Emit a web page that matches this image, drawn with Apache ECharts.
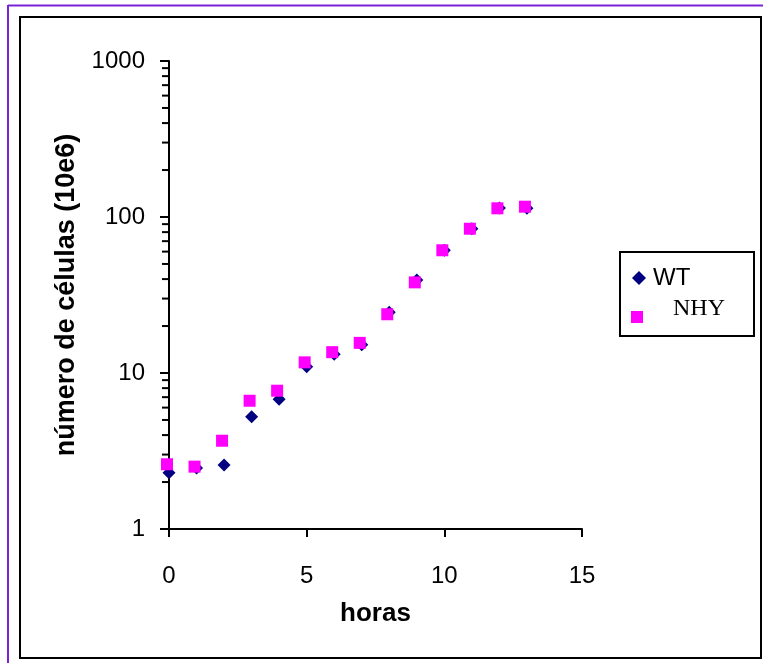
<!DOCTYPE html>
<html>
<head>
<meta charset="utf-8">
<script src="https://cdn.jsdelivr.net/npm/echarts@6/dist/echarts.min.js"></script>
<style>
html,body{margin:0;padding:0;background:#fff;}
#chart{width:763px;height:663px;}
</style>
</head>
<body>
<div id="chart"></div>
<script>
const hours = [0, 1, 2, 3, 4, 5, 6, 7, 8, 9, 10, 11, 12, 13];
const wtValues = [2.29, 2.46, 2.57, 5.25, 6.78, 10.97, 13.2, 15.2, 24.5, 39.4, 61.2, 84.1, 114, 113.7];
const nhyValues = [2.60, 2.51, 3.68, 6.64, 7.7, 11.7, 13.6, 15.6, 23.8, 38.1, 61.2, 84.1, 113.7, 116.4];
const xTickLabels = [0, 5, 10, 15];
const yTickLabels = [1, 10, 100, 1000];
const yMinorTicks = [2, 3, 4, 5, 6, 7, 8, 9, 20, 30, 40, 50, 60, 70, 80, 90, 200, 300, 400, 500, 600, 700, 800, 900];
const seriesNames = ['WT', 'NHY'];
const xTitle = 'horas';
const yTitle = 'número de células (10e6)';

const FONT = '"Liberation Sans", Arial, sans-serif';
const SERIF = '"Liberation Serif", "Times New Roman", serif';
const chart = echarts.init(document.getElementById('chart'));

const option = {
  backgroundColor: '#ffffff',
  animation: false,
  grid: {left: 169, right: 181, top: 61, bottom: 134, containLabel: false},
  xAxis: {
    type: 'value',
    min: xTickLabels[0],
    max: xTickLabels[xTickLabels.length - 1],
    interval: 5,
    name: xTitle,
    nameLocation: 'middle',
    nameGap: 72,
    nameTextStyle: {fontFamily: FONT, fontWeight: 'bold', fontSize: 26, color: '#000'},
    axisLine: {show: true, lineStyle: {color: '#000', width: 2}},
    axisTick: {show: true, inside: false, length: 8, lineStyle: {color: '#000', width: 2}},
    axisLabel: {margin: 35, fontFamily: FONT, fontSize: 24, color: '#000'},
    splitLine: {show: false}
  },
  yAxis: {
    type: 'log',
    logBase: 10,
    min: yTickLabels[0],
    max: yTickLabels[yTickLabels.length - 1],
    name: yTitle,
    nameLocation: 'middle',
    nameGap: 89,
    nameTextStyle: {fontFamily: FONT, fontWeight: 'bold', fontSize: 27, color: '#000'},
    axisLine: {show: true, lineStyle: {color: '#000', width: 2}},
    axisTick: {show: true, inside: false, length: 9, lineStyle: {color: '#000', width: 2}},
    axisLabel: {margin: 24, fontFamily: FONT, fontSize: 24, color: '#000', formatter: v => String(Math.round(v))},
    splitLine: {show: false}
  },
  legend: [{
    data: [{name: seriesNames[0], icon: 'diamond'}],
    left: 632, top: 266, padding: 0,
    itemWidth: 14, itemHeight: 14,
    textStyle: {fontFamily: FONT, fontSize: 24, color: '#000', padding: [0, 0, 0, 2]},
    selectedMode: false
  }, {
    data: [{name: seriesNames[1], icon: 'rect'}],
    left: 631, top: 297, padding: 0,
    itemWidth: 12, itemHeight: 12,
    formatter: name => '{n|' + name + '}\n{s| }',
    textStyle: {
      color: '#000',
      rich: {
        n: {fontFamily: SERIF, fontSize: 24, lineHeight: 24, color: '#000', padding: [0, 0, 0, 25]},
        s: {fontSize: 2, lineHeight: 16}
      }
    },
    selectedMode: false
  }],
  series: [{
    name: 'minorTicks',
    type: 'scatter',
    silent: true,
    clip: false,
    symbol: 'rect',
    symbolSize: [7, 2],
    symbolOffset: [-3.5, 0],
    itemStyle: {color: '#000', opacity: 1},
    data: yMinorTicks.map(v => [xTickLabels[0], v]),
    z: 1
  }, {
    name: seriesNames[0],
    type: 'scatter',
    symbol: 'diamond',
    symbolSize: [13, 13],
    itemStyle: {color: '#000080', opacity: 1},
    data: hours.map((h, i) => [h, wtValues[i]]),
    z: 3
  }, {
    name: seriesNames[1],
    type: 'scatter',
    symbol: 'rect',
    symbolSize: [12, 12],
    symbolOffset: [-2, 0],
    itemStyle: {color: '#ff00ff', opacity: 1},
    data: hours.map((h, i) => [h, nhyValues[i]]),
    z: 4
  }],
  graphic: [
    {type: 'line', shape: {x1: 8, y1: 5.5, x2: 763, y2: 5.5}, style: {stroke: '#7b22d8', lineWidth: 2}, silent: true},
    {type: 'line', shape: {x1: 8, y1: 5, x2: 8, y2: 663}, style: {stroke: '#7b22d8', lineWidth: 2}, silent: true},
    {type: 'rect', shape: {x: 20, y: 17, width: 741, height: 641}, style: {fill: 'none', stroke: '#000', lineWidth: 2}, silent: true},
    {type: 'rect', shape: {x: 620, y: 252, width: 134, height: 84}, style: {fill: 'none', stroke: '#000', lineWidth: 2}, silent: true}
  ]
};
chart.setOption(option);
</script>
</body>
</html>
